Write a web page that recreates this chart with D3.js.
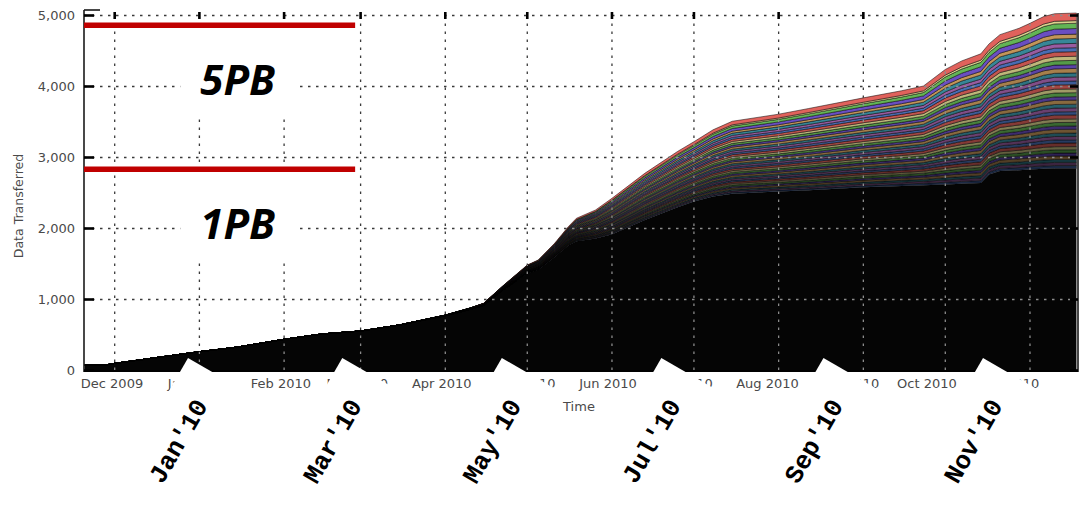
<!DOCTYPE html>
<html><head><meta charset="utf-8">
<script src="https://cdn.jsdelivr.net/npm/d3@7"></script>
<style>body{margin:0;background:#fff}svg{display:block}</style>
</head><body><svg id="c" width="1086" height="505"></svg>
<script>
// ---- data ----
const dates = ["2009-11-20","2009-11-28","2009-12-01","2009-12-15","2010-01-01","2010-01-15","2010-02-01","2010-02-15","2010-03-01","2010-03-15",
  "2010-04-01","2010-04-10","2010-04-15","2010-04-22","2010-05-01","2010-05-05","2010-05-11","2010-05-16","2010-05-19","2010-05-26",
  "2010-06-01","2010-06-13","2010-06-25","2010-07-01","2010-07-08","2010-07-15","2010-08-01","2010-08-12","2010-09-01","2010-09-15",
  "2010-09-23","2010-10-01","2010-10-07","2010-10-14","2010-10-17","2010-10-21","2010-10-28","2010-11-01","2010-11-06","2010-11-10","2010-11-18"];
// bulk of small sites (drawn black)
const otherSites = [78,80,100,175,265,330,440,515,556,640,
  771,860,916,1125,1370,1420,1600,1760,1820,1860,
  1920,2120,2300,2380,2450,2490,2520,2540,2580,2600,
  2610,2620,2630,2640,2760,2810,2820,2830,2840,2845,2845];
// combined volume of the large (coloured) sites
const topSites = [0,0,0,0,0,0,0,0,0,0,
  10,20,30,65,116,136,191,265,324,401,
  505,657,785,842,940,1020,1090,1150,1260,1340,
  1397,1620,1730,1820,1840,1920,2000,2060,2145,2180,2190];
// relative stripe thickness of each large site, top stripe first
const siteShare = [4.6,1.6,3.2,3.4,2.6,3.0,2.6,2.4,2.8,2.5,2.6,2.3,2.7,2.4,2.5,2.2,2.6,2.3,2.4,2.1,
  2.5,2.2,2.3,2.0,2.4,2.1,2.2,2.0,2.3,2.0,2.1,1.9,2.2,1.9,2.0,1.8,2.1,1.8,1.9,1.8];
const yTicks = [0,1000,2000,3000,4000,5000];
const monthTicks = ["2009-12-01","2010-01-01","2010-02-01","2010-03-01","2010-04-01","2010-05-01","2010-06-01",
  "2010-07-01","2010-08-01","2010-09-01","2010-10-01","2010-11-01"];
const capacityLabels = ["5PB","1PB"];
const capacityValues = [4862,2834];
const noteLabels = ["Jan'10","Mar'10","May'10","Jul'10","Sep'10","Nov'10"];
const noteDates = ["2010-01-01","2010-03-01","2010-05-01","2010-07-01","2010-09-01","2010-11-01"];

// ---- styles ----
const topColors = ["#e0625c","#e0d890","#66ba58","#7052cc","#d0a060","#3c94a6","#aa66b2","#527ccc"];
const parse = d3.timeParse("%Y-%m-%d");
const svg = d3.select("#c");
const L = 84, R = 1078, T = 10, B = 371;

const x = d3.scaleTime().domain([parse("2009-12-01"), parse("2010-11-01")]).range([114.7, 1030]);
const xLabel = d3.scaleTime().domain([parse("2009-12-01"), parse("2010-06-01"), parse("2010-11-01")]).range([112, 608, 1008]);
const xNote = d3.scaleTime().domain([parse("2010-01-01"), parse("2010-11-01")]).range([188, 983]);
const y = d3.scaleLinear().domain([0, 5000]).range([370.5, 15.5]);

const shareSum = d3.sum(siteShare);
const keys = ["other"].concat(siteShare.map((s, k) => "s" + k).reverse());
const rows = dates.map((d, i) => {
  const r = {date: parse(d), other: otherSites[i]};
  siteShare.forEach((s, k) => r["s" + k] = topSites[i] * s / shareSum);
  return r;
});
const series = d3.stack().keys(keys)(rows);

const area = d3.area().x(d => x(d.data.date)).y0(d => y(d[0])).y1(d => y(d[1]));
const envelope = d3.area().x(d => x(d.data.date)).y0(y(0)).y1(d => y(d[1]));

function layerColor(key) {
  if (key === "other") return "#050505";
  const k = +key.slice(1);
  return d3.interpolateRgb(topColors[k % topColors.length], "#000")(Math.min(0.78, k * 0.017));
}

const defs = svg.append("defs");
defs.append("clipPath").attr("id", "inside").append("path").attr("d", envelope(series[series.length - 1]));

const months = monthTicks.map(parse);
function grid(g, color) {
  g.selectAll(".h").data(yTicks.filter(v => v > 0)).join("line")
    .attr("x1", L).attr("x2", R).attr("y1", d => y(d)).attr("y2", d => y(d))
    .attr("stroke", color).attr("stroke-width", 1.3).attr("stroke-dasharray", "2.5,5.5");
  g.selectAll(".v").data(months).join("line")
    .attr("x1", d => x(d)).attr("x2", d => x(d)).attr("y1", y(5000)).attr("y2", y(0))
    .attr("stroke", color).attr("stroke-width", 1.3).attr("stroke-dasharray", "2.5,5.5");
}
grid(svg.append("g"), "#3a3a3a");

svg.append("g").selectAll("path").data(series).join("path")
  .attr("d", area)
  .attr("fill", d => layerColor(d.key))
  .attr("stroke", d => d.key === "other" ? "none" : "#000")
  .attr("stroke-width", 0.5);

grid(svg.append("g").attr("clip-path", "url(#inside)"), "#8c8c8c");

// spines and ticks
const ax = svg.append("g").attr("stroke", "#1a1a1a");
ax.append("line").attr("x1", L).attr("x2", L).attr("y1", T).attr("y2", B + 1).attr("stroke-width", 1.6);
ax.append("line").attr("x1", L).attr("x2", 100).attr("y1", T).attr("y2", T).attr("stroke-width", 1.6);
ax.append("line").attr("x1", R).attr("x2", R).attr("y1", 13).attr("y2", B + 1).attr("stroke-width", 1.6);
ax.append("line").attr("x1", L).attr("x2", R).attr("y1", B).attr("y2", B).attr("stroke-width", 1.8).attr("stroke", "#000");
ax.selectAll(".yt").data(yTicks).join("line")
  .attr("x1", L).attr("x2", L + 10).attr("y1", d => y(d)).attr("y2", d => y(d)).attr("stroke-width", 2.6).attr("stroke", "#000");
ax.selectAll(".yr").data(yTicks).join("line")
  .attr("x1", R - 8).attr("x2", R).attr("y1", d => y(d)).attr("y2", d => y(d)).attr("stroke-width", 2.6).attr("stroke", "#000");
ax.selectAll(".xt").data(months).join("line")
  .attr("x1", d => x(d)).attr("x2", d => x(d)).attr("y1", 12).attr("y2", 19).attr("stroke-width", 2.6).attr("stroke", "#000");

const txt = svg.append("g").attr("font-family", "'DejaVu Sans', sans-serif").attr("font-size", 13).attr("fill", "#4a4a4a");
txt.selectAll(".yl").data(yTicks).join("text")
  .attr("x", 75).attr("y", d => y(d) + 4.5).attr("text-anchor", "end").text(d3.format(","));
txt.selectAll(".xl").data(months).join("text")
  .attr("x", d => xLabel(d)).attr("y", 387.5).attr("text-anchor", "middle").text(d3.timeFormat("%b %Y"));
txt.append("text").attr("x", 579).attr("y", 411).attr("text-anchor", "middle").text("Time");
txt.append("text").attr("transform", "translate(23,206) rotate(-90)").attr("text-anchor", "middle")
  .attr("font-size", 12.5).text("Data Transferred");

// capacity annotations
const capEnd = parse("2010-02-27");
capacityValues.forEach((v, i) => {
  svg.append("line").attr("x1", L).attr("x2", x(capEnd)).attr("y1", y(v)).attr("y2", y(v))
    .attr("stroke", "#c00000").attr("stroke-width", 5.5);
});
const capMid = parse("2010-01-15");
const capBoxFrom = parse("2009-12-25"), capBoxTo = parse("2010-02-05");
capacityLabels.forEach((lab, i) => {
  const base = y(capacityValues[i]);
  svg.append("rect").attr("x", x(capBoxFrom)).attr("width", x(capBoxTo) - x(capBoxFrom))
    .attr("y", base + 5).attr("height", 88).attr("fill", "#fff");
  svg.append("text").attr("x", x(capMid)).attr("y", base + 70).attr("text-anchor", "middle")
    .attr("font-family", "'Open Sans', Lato, sans-serif").attr("font-weight", 700).attr("font-style", "italic")
    .attr("font-size", 42).attr("fill", "#000").text(lab);
});

// month notes pasted over the axis labels
noteLabels.forEach((lab, i) => {
  const g = svg.append("g").attr("transform", `translate(${xNote(parse(noteDates[i]))},358) rotate(-60)`);
  g.append("rect").attr("x", -150).attr("y", 0).attr("width", 150).attr("height", 66).attr("fill", "#fff");
  g.append("text").attr("x", -31).attr("y", 41.5).attr("text-anchor", "end")
    .attr("font-family", "'Liberation Mono', 'DejaVu Sans Mono', 'Courier New', monospace").attr("font-weight", 700)
    .attr("font-size", 25.5).attr("fill", "#000").text(lab);
});
</script></body></html>
